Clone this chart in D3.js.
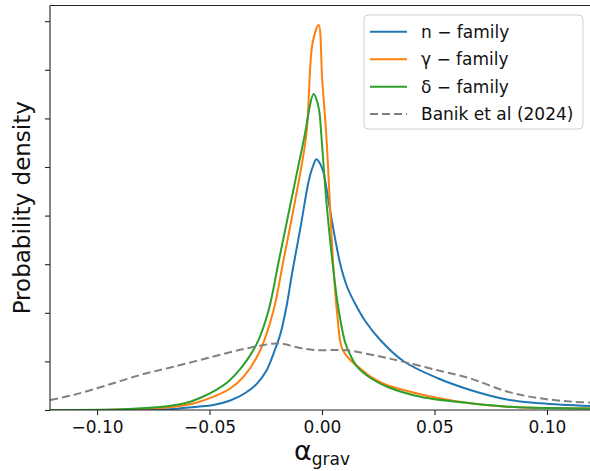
<!DOCTYPE html>
<html><head><meta charset="utf-8">
<script src="https://cdn.jsdelivr.net/npm/d3@7"></script>
<style>html,body{margin:0;padding:0;background:#fff;}svg{display:block;font-family:"DejaVu Sans",sans-serif;}</style>
</head><body>
<svg id="c" width="590" height="471"></svg>
<script>
// Data (x = alpha_grav, y = probability density)
const nFamily = [[-0.1208,0],[-0.0763,0.08],[-0.0661,0.21],[-0.0554,0.68],[-0.0483,1.03],[-0.0408,1.95],[-0.0341,3.5],[-0.0288,5.49],[-0.0248,8.02],[-0.0215,11.67],[-0.0185,15.64],[-0.0159,20.99],[-0.0132,28.40],[-0.0096,37.45],[-0.0060,46.91],[-0.0043,49.79],[-0.0025,51.58],[-0.0008,50.62],[0.0006,48.97],[0.0041,39.71],[0.0081,30.04],[0.0112,25.31],[0.0148,21.81],[0.0192,18.31],[0.0259,14.40],[0.0361,10.08],[0.0512,6.58],[0.0659,4.12],[0.0822,2.16],[0.0970,1.38],[0.1192,0.82],[0.1210,0.80]];
const gammaFamily = [[-0.1208,0],[-0.0883,0.08],[-0.0660,0.68],[-0.0563,1.44],[-0.0482,2.74],[-0.0408,4.42],[-0.0348,6.85],[-0.0274,12.35],[-0.0215,20.58],[-0.0171,30.86],[-0.0119,43.21],[-0.0070,56.58],[-0.0042,75.45],[-0.0015,79.22],[0.0001,67.9],[0.0019,56.58],[0.0050,29.84],[0.0068,19.55],[0.0089,12.70],[0.0126,10.29],[0.0170,8.54],[0.0215,6.85],[0.0281,5.25],[0.0363,4.12],[0.0504,2.57],[0.0659,1.38],[0.0822,0.68],[0.1015,0.41],[0.1210,0.33]];
const deltaFamily = [[-0.1208,0],[-0.0883,0.16],[-0.0733,0.56],[-0.0652,1.03],[-0.0585,1.71],[-0.0532,2.67],[-0.0482,3.81],[-0.0416,5.86],[-0.0363,8.44],[-0.0289,13.72],[-0.0237,20.58],[-0.0193,30.45],[-0.0141,42.18],[-0.0081,55.56],[-0.0037,65.02],[-0.0021,63.37],[-0.0011,61.11],[-0.0003,56.58],[0.0019,43.21],[0.0048,29.84],[0.0074,20.58],[0.0104,13.72],[0.0126,11.32],[0.0156,8.91],[0.0215,6.58],[0.0289,4.79],[0.0437,2.74],[0.0659,1.38],[0.0822,0.68],[0.1015,0.41],[0.1210,0.33]];
const banik2024 = [[-0.1208,2.06],[-0.1104,3.1],[-0.0956,5.1],[-0.0808,7.2],[-0.0660,8.9],[-0.0482,11.0],[-0.0333,12.7],[-0.0208,13.7],[-0.0171,13.6],[-0.0111,12.9],[-0.0037,12.35],[0.0081,12.35],[0.0111,12.3],[0.0259,11.0],[0.0363,9.9],[0.0511,8.2],[0.0659,6.5],[0.0822,3.8],[0.0970,2.4],[0.1118,1.7],[0.1208,1.5]];
const xTicks = [-0.10,-0.05,0.00,0.05,0.10];
const xTickLabels = ["\u22120.10","\u22120.05","0.00","0.05","0.10"];
const yTicks = [0,10,20,30,40,50,60,70,80];
const seriesNames = ["n \u2212 family","\u03b3 \u2212 family","\u03b4 \u2212 family","Banik et al (2024)"];
const seriesColors = ["#1f77b4","#ff7f0e","#2ca02c","#808080"];

const svg = d3.select("#c");
const L = 50, R = 594, T = 5.5, B = 410;
const x = d3.scaleLinear().domain([-0.1209,0.1209]).range([L,R]);
const y = d3.scaleLinear().domain([0,83.23]).range([B,T]);

svg.append("clipPath").attr("id","clip").append("rect").attr("x",L).attr("y",T).attr("width",R-L).attr("height",B-T);

const line = d3.line().x(d=>x(d[0])).y(d=>y(d[1])).curve(d3.curveCatmullRom.alpha(0.5));
const g = svg.append("g").attr("clip-path","url(#clip)");
const all = [nFamily,gammaFamily,deltaFamily,banik2024];
all.forEach((s,i)=>{
  g.append("path").datum(s).attr("d",line).attr("fill","none")
   .attr("stroke",seriesColors[i]).attr("stroke-width",2)
   .attr("stroke-dasharray", i===3 ? "8,4" : null)
   .attr("stroke-linejoin","round");
});

// axes
const xa = svg.append("g").attr("transform",`translate(0,${B})`)
  .call(d3.axisBottom(x).tickValues(xTicks).tickFormat((d,i)=>xTickLabels[i]).tickSize(5).tickPadding(6));
const ya = svg.append("g").attr("transform",`translate(${L},0)`)
  .call(d3.axisLeft(y).tickValues(yTicks).tickFormat("").tickSize(5));
[xa,ya].forEach(a=>{
  a.select(".domain").remove();
  a.selectAll("line").attr("stroke","#222").attr("stroke-width",1.1);
  a.selectAll("text").attr("font-size",17).attr("fill","#111").attr("font-family","DejaVu Sans");
});
// spines
svg.append("line").attr("x1",L).attr("x2",L).attr("y1",T).attr("y2",B).attr("stroke","#222").attr("stroke-width",1.1);
svg.append("line").attr("x1",L).attr("x2",R).attr("y1",B).attr("y2",B).attr("stroke","#222").attr("stroke-width",1.1);
svg.append("line").attr("x1",L).attr("x2",R).attr("y1",T).attr("y2",T).attr("stroke","#222").attr("stroke-width",1.1);
svg.append("line").attr("x1",R).attr("x2",R).attr("y1",T).attr("y2",B).attr("stroke","#222").attr("stroke-width",1.1);

// labels
svg.append("text").attr("transform",`translate(30,${(T+B)/2}) rotate(-90)`)
  .attr("text-anchor","middle").attr("font-size",23).attr("fill","#111").text("Probability density");
const xl = svg.append("text").attr("x",(L+R)/2).attr("y",460).attr("text-anchor","middle").attr("fill","#111");
xl.append("tspan").attr("font-size",27).text("\u03b1");
xl.append("tspan").attr("font-size",17).attr("dy",5).text("grav");

// legend
const lg = svg.append("g");
lg.append("rect").attr("x",364).attr("y",15).attr("width",219).attr("height",114).attr("rx",4)
  .attr("fill","#fff").attr("fill-opacity",0.8).attr("stroke","#d0d0d0").attr("stroke-width",1);
const rows = [31.7,59.3,86.7,114];
seriesNames.forEach((n,i)=>{
  lg.append("line").attr("x1",370).attr("x2",407).attr("y1",rows[i]).attr("y2",rows[i])
    .attr("stroke",seriesColors[i]).attr("stroke-width",2).attr("stroke-dasharray", i===3 ? "8,4" : null);
  lg.append("text").attr("x",421).attr("y",rows[i]).attr("dy","0.35em").attr("font-size",17).attr("fill","#111").text(n);
});
</script>
</body></html>
